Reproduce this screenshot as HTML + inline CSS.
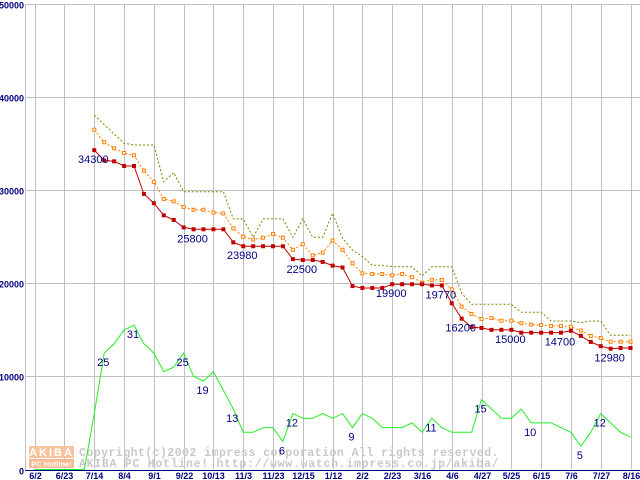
<!DOCTYPE html>
<html><head><meta charset="utf-8"><style>
html,body{margin:0;padding:0;background:#fff;}
svg{display:block;}
.tk{font-family:"Liberation Sans",sans-serif;font-size:9px;font-weight:bold;fill:#000080;}
.lb{font-family:"Liberation Sans",sans-serif;font-size:11px;fill:#000080;}
.wm{font-family:"Liberation Mono",monospace;font-size:11.5px;font-weight:bold;fill:#c8c8c8;letter-spacing:0.5px;}
</style></head><body>
<svg id="chart" width="640" height="480" viewBox="0 0 640 480" xmlns="http://www.w3.org/2000/svg">
<g id="grid"></g>
<g id="wmark">
  <rect x="29" y="446" width="45" height="12" fill="#f8c4a0"/>
  <text x="51.5" y="456" text-anchor="middle" font-family="Liberation Sans,sans-serif" font-size="11" font-weight="bold" fill="#fff" letter-spacing="2">AKIBA</text>
  <rect x="29" y="459" width="45" height="9" fill="#f8b890"/>
  <text x="51.5" y="466.5" text-anchor="middle" font-family="Liberation Sans,sans-serif" font-size="7.5" font-weight="bold" fill="#fff">PC Hotline!</text>
  <text class="wm" x="79" y="456" textLength="420">Copyright(c)2002 impress corporation All rights reserved.</text>
  <text class="wm" x="79" y="467" textLength="420">AKIBA PC Hotline!  http://www.watch.impress.co.jp/akiba/</text>
</g>
<g id="series"></g>
<g id="labels"></g>
</svg>
<script>
const xTickLabels = ["6/2","6/23","7/14","8/4","9/1","9/22","10/13","11/3","11/23","12/15","1/12","2/2","2/23","3/16","4/6","4/27","5/25","6/15","7/6","7/27","8/16"];
const yTickValues = [0,10000,20000,30000,40000,50000];
const priceStartWeek = 6;
const minPrice = [34300,33200,33100,32600,32600,29600,28600,27300,26800,26000,25800,25800,25800,25800,24400,23980,23980,23980,23980,23980,22600,22500,22500,22300,21900,21700,19700,19500,19500,19500,19900,19900,19900,19900,19770,19770,17850,16200,15300,15200,15000,15000,15000,14700,14700,14700,14700,14700,14900,14350,13700,13250,12980,13050,13050];
const avgPrice = [36500,35150,34500,34000,33750,32100,30900,29050,28800,28200,27900,27900,27600,27500,25900,25000,24700,24900,25300,24900,23600,24200,23000,23300,24600,23600,22150,21070,21000,21000,20860,21000,20650,20070,20360,20360,19350,17490,16700,16170,16270,15980,15980,15710,15560,15520,15420,15420,15340,14920,14340,14120,13730,13730,13730];
const maxPrice = [38060,37050,36050,35050,34850,34850,34850,30910,31890,29840,29840,29840,29840,29840,26920,26920,24940,26920,26920,26920,24940,26920,24940,24940,27520,24840,23580,22860,21930,21930,21780,21780,21780,20790,21780,21780,21780,18930,17750,17750,17750,17750,17750,16880,16880,16880,15950,15950,15950,15770,15950,15950,14410,14410,14410];
const shopCount = [0,0,0,0,0,0,12,25,27,30,31,27,25,21,22,25,20,19,21,17,13,8,8,9,9,6,12,11,11,12,11,12,9,12,11,9,9,9,10,8,11,9,8,8,8,15,13,11,11,13,10,10,10,9,8,5,8,12,10,8,7];
const countScale = 500;
const priceLabelIdx = [0,10,15,21,30,35,37,42,47,52];
const countLabelWeeks = [7,10,15,17,20,25,26,32,40,45,50,55,57];

const NS = "http://www.w3.org/2000/svg";
const xOf = w => 34.7 + 9.93 * w;
const yOf = v => 469.5 - v * 0.00931;
function mk(tag, attrs, parent){ const e=document.createElementNS(NS,tag); for(const k in attrs) e.setAttribute(k,attrs[k]); parent.appendChild(e); return e; }
const grid=document.getElementById('grid'), ser=document.getElementById('series'), lab=document.getElementById('labels');

yTickValues.forEach(v=>{
  const y=Math.round(yOf(v))+0.5;
  const l=mk('line',{x1:25,x2:640,y1:y,y2:y,stroke:v===0?'#000080':'#c0c0c0','stroke-width':1},grid);
  
  
  const t=mk('text',{x:24,y:y+4,'text-anchor':'end',class:'tk'},grid);
  t.textContent=v;
  
  
});
const ax=mk('line',{x1:25.5,x2:25.5,y1:4,y2:470,stroke:'#c0c0c0'},grid);


xTickLabels.forEach((s,i)=>{
  const x=Math.round(xOf(i*3))+0.5;
  const l=mk('line',{x1:x,x2:x,y1:4,y2:469,stroke:'#c0c0c0'},grid);
  
  
  const t=mk('text',{x:x,y:479,'text-anchor':'middle',class:'tk'},grid);
  t.textContent=s;
  
  
});

function poly(vals,start,scale,color,dash,name){
  const pts=vals.map((v,i)=>xOf(start+i).toFixed(1)+','+yOf(v*scale).toFixed(1)).join(' ');
  const p=mk('polyline',{points:pts,fill:'none',stroke:color,'stroke-width':1},ser);
  if(dash) p.setAttribute('stroke-dasharray',dash);
  
  
}
poly(shopCount,0,countScale,'#22ee22',null,'shop-count-line');
poly(maxPrice,priceStartWeek,1,'#808000','2,2','max-price-line');
poly(avgPrice,priceStartWeek,1,'#ff8000','2,2','avg-price-line');
poly(minPrice,priceStartWeek,1,'#c00000',null,'min-price-line');
avgPrice.forEach((v,i)=>{
  const r=mk('rect',{x:xOf(priceStartWeek+i)-1.5,y:yOf(v)-1.5,width:3,height:3,fill:'#fff',stroke:'#ff8000','stroke-width':1},ser);
  
  
});
minPrice.forEach((v,i)=>{
  const r=mk('rect',{x:xOf(priceStartWeek+i)-2,y:yOf(v)-2,width:4,height:4,fill:'#c00000'},ser);
  
  
});
priceLabelIdx.forEach(i=>{
  const t=mk('text',{x:xOf(priceStartWeek+i)-1,y:yOf(minPrice[i])+13,'text-anchor':'middle',class:'lb'},lab);
  t.textContent=minPrice[i];
  
  
});
countLabelWeeks.forEach(w=>{
  const t=mk('text',{x:xOf(w)-1,y:yOf(shopCount[w]*countScale)+13,'text-anchor':'middle',class:'lb'},lab);
  t.textContent=shopCount[w];
  
  
});
</script>
</body></html>
